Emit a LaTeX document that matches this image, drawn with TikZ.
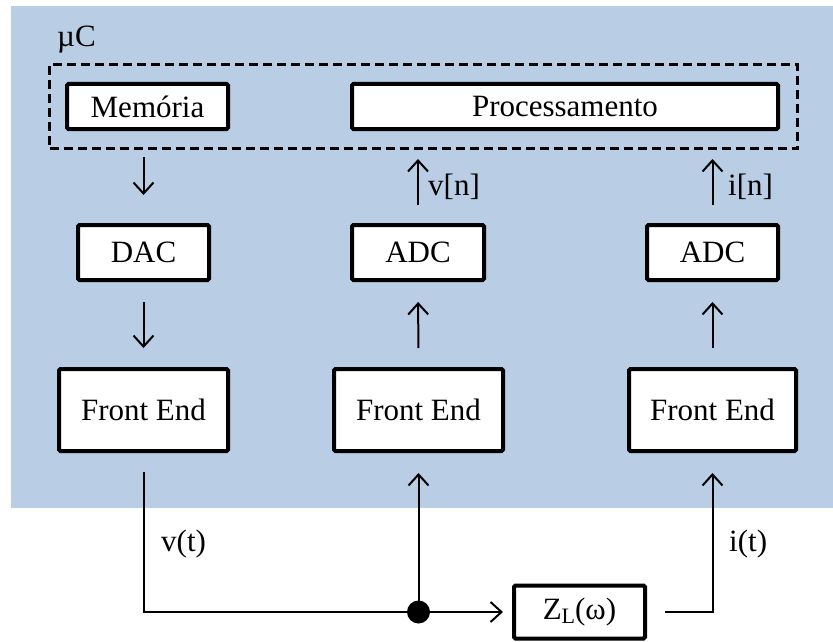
\documentclass[tikz,border=0pt]{standalone}
\usepackage{fontspec}
\setmainfont{Liberation Serif}
\usetikzlibrary{arrows.meta}
\definecolor{panelblue}{HTML}{B9CDE5}
\tikzset{
  blockbox/.style={draw, line width=4pt, fill=white, rounded corners=1.5pt,
    inner sep=0pt, font=\fontsize{31}{36}\selectfont},
  lbl/.style={inner sep=0pt, font=\fontsize{31}{36}\selectfont},
  wire/.style={line width=2pt},
  arr/.style={wire, -{Straight Barb[length=11pt,width=20pt,line width=2pt]}},
}
\begin{document}
\begin{tikzpicture}[x=1pt,y=-1pt]
\useasboundingbox (0,0) rectangle (833,642);
% microcontroller panel
\fill[panelblue] (11,6) rectangle (833,508);
\node[lbl, anchor=west] (uclabel) at (57,40) {µC};
\node[draw, dash pattern=on 9pt off 5pt, line width=3pt, inner sep=0pt,
      minimum width=748pt, minimum height=84pt] (uc) at (423.5,106.5) {};
% blocks
\node[blockbox, minimum width=161pt, minimum height=45pt] (mem) at (147.5,106.5) {Memória};
\node[blockbox, minimum width=426pt, minimum height=45pt] (proc) at (565,106.5) {Processamento};
\node[blockbox, minimum width=131pt, minimum height=55pt] (dac) at (143.5,252.5) {DAC};
\node[blockbox, minimum width=132pt, minimum height=55pt] (adcv) at (418,252.5) {ADC};
\node[blockbox, minimum width=131pt, minimum height=55pt] (adci) at (712.5,252.5) {ADC};
\node[blockbox, minimum width=169pt, minimum height=82pt] (fe1) at (143.5,410) {Front End};
\node[blockbox, minimum width=169pt, minimum height=82pt] (fe2) at (418.5,410) {Front End};
\node[blockbox, minimum width=167pt, minimum height=82pt] (fe3) at (712.5,410) {Front End};
\node[blockbox, minimum width=131pt, minimum height=53pt] (zl) at (579.5,612)
  {Z\raisebox{-0.28ex}{\fontsize{22}{26}\selectfont L}(ω)};
\node[circle, fill=black, inner sep=0pt, minimum size=23pt] (dot) at (418.5,612) {};
% connectors inside the panel
\draw[arr, shorten <=7pt, shorten >=28pt] (dac.north |- uc.south) -- (dac.north);
\draw[arr, shorten <=20pt, shorten >=19pt] (dac.south) -- (fe1.north);
\draw[arr, shorten <=18pt, shorten >=9pt] (adcv.north) -- (uc.south -| adcv.north);
\draw[arr, shorten <=18pt, shorten >=9pt] (adci.north) -- (uc.south -| adci.north);
\draw[arr, shorten <=19pt, shorten >=20pt] (fe2.north) -- (adcv.south);
\draw[arr, shorten <=19pt, shorten >=20pt] (fe3.north) -- (adci.south);
\node[lbl, anchor=west] (vn) at (428,187) {v[n]};
\node[lbl, anchor=west] (in) at (728,187) {i[n]};
% analog side
\draw[wire, shorten <=19pt] (fe1.south) |- (dot.center);
\draw[arr, shorten >=9pt] (dot) -- (zl.west);
\draw[arr, shorten >=20pt] (dot.center) -- (fe2.south);
\draw[arr, shorten <=18pt, shorten >=20pt] (zl.east) -| (fe3.south);
\node[lbl, anchor=west] (vt) at (161,544) {v(t)};
\node[lbl, anchor=west] (it) at (729,544) {i(t)};
\end{tikzpicture}
\end{document}
